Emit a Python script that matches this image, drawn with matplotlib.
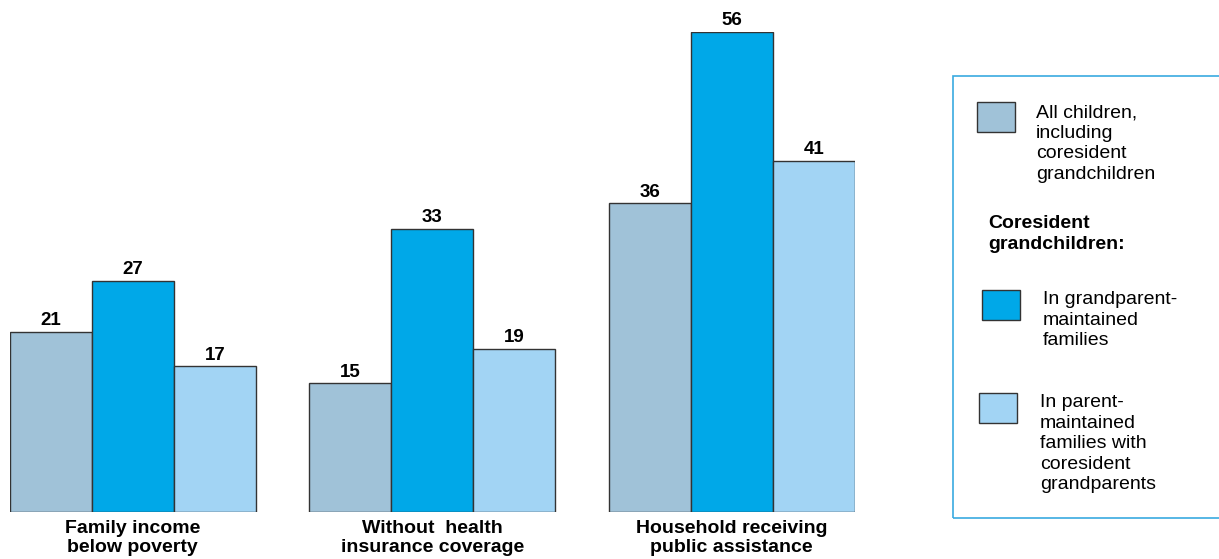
#!/usr/bin/env python3

import numpy as np
import matplotlib
matplotlib.use("Agg")
import matplotlib.pyplot as plt
from matplotlib.patches import Rectangle

plt.rcParams["font.family"] = ["Liberation Sans", "DejaVu Sans"]

categories = ["Family income\nbelow poverty",
              "Without  health\ninsurance coverage",
              "Household receiving\npublic assistance"]
all_children = [21, 15, 36]
grandparent_maintained = [27, 33, 56]
parent_maintained = [17, 19, 41]

series_labels = ["All children,\nincluding\ncoresident\ngrandchildren",
                 "In grandparent-\nmaintained\nfamilies",
                 "In parent-\nmaintained\nfamilies with\ncoresident\ngrandparents"]
legend_heading = "Coresident\ngrandchildren:"

colors = ["#A0C2D8", "#00A8E8", "#A2D4F4"]

W, H = 1219, 559
fig = plt.figure(figsize=(W / 100, H / 100), dpi=100)

# axes placed in pixel terms: bars from x=10 to 855, baseline at y=512, 56 at y=32
ax = fig.add_axes([10 / W, (H - 512) / H, 845 / W, 480 / H])
ax.set_xlim(-0.41, 2.412)
ax.set_ylim(0, 56)
ax.axis("off")

x = np.arange(len(categories))
w = 0.274
for i, vals in enumerate([all_children, grandparent_maintained, parent_maintained]):
    pos = x + (i - 1) * w
    bars = ax.bar(pos, vals, width=w, color=colors[i], edgecolor="#333333",
                  linewidth=1.0)
    for b, v in zip(bars, vals):
        ax.annotate(str(v), (b.get_x() + b.get_width() / 2, v),
                    xytext=(0, 2), textcoords="offset points",
                    ha="center", va="bottom", fontsize=13.5, fontweight="bold")

for xi, cat in zip(x, categories):
    ax.text(xi, -0.9, cat, ha="center", va="top", fontsize=14,
            fontweight="bold", linespacing=1.2, transform=ax.transData)

# legend panel
def fx(px):
    return px / W


def fy(py):
    return 1 - py / H


fig.patches.append(Rectangle((fx(953), fy(518)), fx(300), 442 / H,
                             transform=fig.transFigure, fill=False,
                             edgecolor="#3AAAE0", linewidth=1.2))

swatches = [(977, 102), (982, 290), (979, 393)]
texts = [(1036, 104), (1043, 291), (1040, 394)]
for (sx, sy), (tx, ty), col, lab in zip(swatches, texts, colors, series_labels):
    fig.patches.append(Rectangle((fx(sx), fy(sy + 30)), 38 / W, 30 / H,
                                 transform=fig.transFigure, facecolor=col,
                                 edgecolor="#333333", linewidth=1.0))
    fig.text(fx(tx), fy(ty), lab, ha="left", va="top", fontsize=14,
             linespacing=1.27)

fig.text(fx(988), fy(215), legend_heading, ha="left", va="top", fontsize=14,
         fontweight="bold", linespacing=1.27)

fig.savefig("out.png", dpi=100)
plt.close(fig)
